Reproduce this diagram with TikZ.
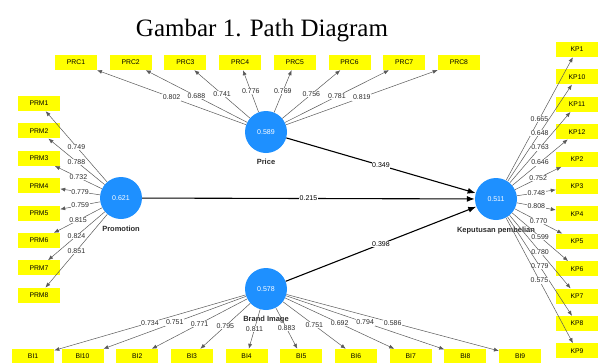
\documentclass[tikz,border=0pt]{standalone}
\usepackage{fontspec}
\setmainfont{Liberation Serif}
\setsansfont{Liberation Sans}
\usetikzlibrary{arrows.meta,positioning}
\definecolor{plsblue}{HTML}{1E90FF}
\definecolor{plsyellow}{HTML}{FFFF00}
\definecolor{plsink}{HTML}{2B2B2B}
\tikzset{
  ind/.style={fill=plsyellow,minimum width=42pt,minimum height=15pt,inner sep=0pt,
    font=\sffamily\fontsize{6.8}{7}\selectfont},
  lv/.style={circle,fill=plsblue,minimum size=42pt,inner sep=0pt,text=white,
    font=\sffamily\fontsize{7}{8}\selectfont},
  lvname/.style={font=\sffamily\bfseries\fontsize{7.5}{8}\selectfont,text=plsink,inner sep=1pt},
  load/.style={-{Latex[length=5pt,width=4pt]},line width=0.5pt,color=black!65},
  struct/.style={-{Latex[length=8pt,width=6pt]},line width=1.1pt,color=black},
  lbl/.style={fill=white,inner sep=0.6pt,font=\sffamily\fontsize{7}{8}\selectfont,text=plsink},
}
\begin{document}
\begin{tikzpicture}[x=1pt,y=-1pt,node distance=12pt and 12.3pt]
\clip (0,0) rectangle (611,362);
\node[font=\fontsize{25}{30}\selectfont,anchor=base] (title) at (262,36) {Gambar 1. Path Diagram};
% latent variables
\node[lv] (price) at (266,132) {0.589};
\node[lv] (promo) at (121,198) {0.621};
\node[lv] (kpb) at (496,199) {0.511};
\node[lv] (brand) at (266,289) {0.578};
\node[lvname,below=5pt of price] (pricename) {Price};
\node[lvname,below=6pt of promo] (promoname) {Promotion};
\node[lvname,below=6pt of kpb] (kpbname) {Keputusan pembelian};
\node[lvname,below=5pt of brand] (brandname) {Brand Image};
% indicators
\node[ind] (prc1) at (76,62.5) {PRC1};
\node[ind,right=of prc1] (prc2) {PRC2}; \node[ind,right=of prc2] (prc3) {PRC3};
\node[ind,right=of prc3] (prc4) {PRC4}; \node[ind,right=of prc4] (prc5) {PRC5};
\node[ind,right=of prc5] (prc6) {PRC6}; \node[ind,right=of prc6] (prc7) {PRC7};
\node[ind,right=of prc7] (prc8) {PRC8};
\node[ind] (prm1) at (39,103.5) {PRM1};
\node[ind,below=of prm1] (prm2) {PRM2}; \node[ind,below=of prm2] (prm3) {PRM3};
\node[ind,below=of prm3] (prm4) {PRM4}; \node[ind,below=of prm4] (prm5) {PRM5};
\node[ind,below=of prm5] (prm6) {PRM6}; \node[ind,below=of prm6] (prm7) {PRM7};
\node[ind,below=of prm7] (prm8) {PRM8};
\node[ind] (kp1) at (577,49.5) {KP1};
\node[ind,below=of kp1] (kp10) {KP10}; \node[ind,below=of kp10] (kp11) {KP11};
\node[ind,below=of kp11] (kp12) {KP12}; \node[ind,below=of kp12] (kp2) {KP2};
\node[ind,below=of kp2] (kp3) {KP3}; \node[ind,below=of kp3] (kp4) {KP4};
\node[ind,below=of kp4] (kp5) {KP5}; \node[ind,below=of kp5] (kp6) {KP6};
\node[ind,below=of kp6] (kp7) {KP7}; \node[ind,below=of kp7] (kp8) {KP8};
\node[ind,below=of kp8] (kp9) {KP9};
\node[ind] (bi10) at (82.5,356.5) {BI10};
\node[ind,left=7pt of bi10] (bi1) {BI1};
\node[ind,right=of bi10] (bi2) {BI2}; \node[ind,right=of bi2] (bi3) {BI3};
\node[ind,right=of bi3] (bi4) {BI4}; \node[ind,right=of bi4] (bi5) {BI5};
\node[ind,right=of bi5] (bi6) {BI6}; \node[ind,right=of bi6] (bi7) {BI7};
\node[ind,right=of bi7] (bi8) {BI8}; \node[ind,right=of bi8] (bi9) {BI9};
% outer loadings
\draw[load] (price)--node[lbl]{0.802}(prc1); \draw[load] (price)--node[lbl]{0.688}(prc2);
\draw[load] (price)--node[lbl]{0.741}(prc3); \draw[load] (price)--node[lbl]{0.776}(prc4);
\draw[load] (price)--node[lbl]{0.769}(prc5); \draw[load] (price)--node[lbl]{0.756}(prc6);
\draw[load] (price)--node[lbl]{0.781}(prc7); \draw[load] (price)--node[lbl]{0.819}(prc8);
\draw[load] (promo)--node[lbl]{0.749}(prm1); \draw[load] (promo)--node[lbl]{0.788}(prm2);
\draw[load] (promo)--node[lbl]{0.732}(prm3); \draw[load] (promo)--node[lbl]{0.779}(prm4);
\draw[load] (promo)--node[lbl]{0.759}(prm5); \draw[load] (promo)--node[lbl]{0.815}(prm6);
\draw[load] (promo)--node[lbl]{0.824}(prm7); \draw[load] (promo)--node[lbl]{0.851}(prm8);
\draw[load] (kpb)--node[lbl]{0.665}(kp1); \draw[load] (kpb)--node[lbl]{0.648}(kp10);
\draw[load] (kpb)--node[lbl]{0.763}(kp11); \draw[load] (kpb)--node[lbl]{0.646}(kp12);
\draw[load] (kpb)--node[lbl]{0.752}(kp2); \draw[load] (kpb)--node[lbl]{0.748}(kp3);
\draw[load] (kpb)--node[lbl]{0.808}(kp4); \draw[load] (kpb)--node[lbl]{0.770}(kp5);
\draw[load] (kpb)--node[lbl]{0.599}(kp6); \draw[load] (kpb)--node[lbl]{0.780}(kp7);
\draw[load] (kpb)--node[lbl]{0.779}(kp8); \draw[load] (kpb)--node[lbl]{0.575}(kp9);
\draw[load] (brand)--node[lbl]{0.734}(bi1); \draw[load] (brand)--node[lbl]{0.751}(bi10);
\draw[load] (brand)--node[lbl]{0.771}(bi2); \draw[load] (brand)--node[lbl]{0.795}(bi3);
\draw[load] (brand)--node[lbl]{0.811}(bi4); \draw[load] (brand)--node[lbl]{0.883}(bi5);
\draw[load] (brand)--node[lbl]{0.751}(bi6); \draw[load] (brand)--node[lbl]{0.692}(bi7);
\draw[load] (brand)--node[lbl]{0.794}(bi8); \draw[load] (brand)--node[lbl]{0.586}(bi9);
% inner model
\draw[struct] (price)--node[lbl,text=black]{0.349}(kpb);
\draw[struct] (promo)--node[lbl,text=black]{0.215}(kpb);
\draw[struct] (brand)--node[lbl,text=black]{0.398}(kpb);
\end{tikzpicture}
\end{document}
